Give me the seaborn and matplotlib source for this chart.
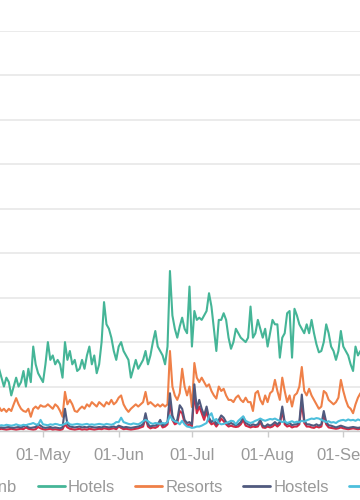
import matplotlib
matplotlib.use("Agg")
import numpy as np
import pandas as pd
import seaborn as sns
import matplotlib.pyplot as plt
import matplotlib.dates as mdates

# ---- data (daily values, starting 13-Apr) ----
start_date = "2019-04-13"
categories = ["Airbnb", "Hotels", "Resorts", "Hostels", "Guesthouses"]
colors = ["#d42a45", "#45b597", "#ef8048", "#505a7e", "#4dbfdc"]

airbnb = [0.4,0.5,0.4,0.3,0.4,0.5,0.4,0.3,0.4,0.5,0.4,0.8,0.5,0.4,0.3,0.4,0.9,0.6,
          0.4,0.3,0.4,0.5,0.3,0.4,0.3,0.2,0.4,1.5,0.8,0.5,0.4,0.3,0.4,0.5,0.3,0.4,0.3,0.5,0.4,0.3,
          0.4,0.5,0.4,0.6,0.5,0.4,0.5,0.6,0.4,1.0,0.7,0.4,0.5,0.4,0.3,0.4,0.5,0.6,0.8,1.0,3.0,1.0,0.6,0.8,0.7,1.0,1.8,0.8,1.0,1.5,
          6.5,2.5,1.5,1.8,4.5,4.0,1.8,1.2,1.5,1.0,8.5,4.0,5.5,4.0,2.5,4.5,2.2,1.5,1.8,1.0,1.8,2.8,2.2,1.5,1.0,1.2,1.0,0.9,1.0,1.5,2.5,1.2,1.0,0.8,1.0,0.9,1.0,2.0,0.8,0.7,1.0,0.8,
          1.0,1.5,1.0,1.5,4.5,1.5,1.0,1.2,0.8,1.0,1.0,1.5,6.5,1.8,1.0,1.0,0.8,0.7,1.0,0.8,1.0,3.5,1.5,0.8,0.7,0.6,0.5,0.6,0.8,0.6,0.5,0.4,0.5,0.6,0.5,0.4,0.5]

hotels = [14,12,10,12,11,8,10,12,10,11,13.5,10,14,11,19,15,13,12,
          11,15,20,16,17,15,16,15,12,20,16,18,15,16,13.5,14,16,14,17,19,15,17,
          13,15,20,29,24,23,21,18,16,19,20,18,17,16,12,14,16,14,15,16,18,15,17,20,22.5,19,18,17,15,19,
          36,26,23,21,23.5,25.5,23,22,32.5,19,27,25,25.5,25,26,27,31,28,23,18,25,25,26.5,25,21,18.5,20,23,22,21,20.5,20,21,28,21,22,25,23,21,23,19,22,
          25,24,24,16.5,21,22,26.5,27,16.5,27.5,26,24,23,22,24,22,25,22,19.5,17.7,18,20,24,22,19,18,16,18,22.5,19,18,17,15,13.5,19,17,18]

resorts = [5.4,4.5,5,4.3,5,4.5,6,7.4,6,5,4.5,4.3,5,3.2,5,5.5,5,5.8,
           5.5,5.5,6,5.5,5,6,5.5,4.5,3.2,8.8,6,7,6,4.5,4.3,5,5.5,5,6,5.5,6.5,6,
           5.5,6.5,6,5.5,6.5,6,7,6,6.5,7.5,8,6,5,4.3,5,5.5,6,5.5,6,6.5,8.8,6,6.5,6,5.5,6,5.5,6,5.5,6,
           18,10,8,7,8.5,14,10,8,10,5.4,15.3,12,11,12,11,10,10.5,9,8,7.3,10,9,9.5,8,7,7,6.5,7.5,8,7,6.5,7.5,6.5,6.5,4.5,8.5,9,7,6,8,6.5,8.5,
           9,11.5,9,7,12,9,6.5,8,5.5,8,8.5,10,14.4,9,8,9.5,8,7,6,5,5.5,9,8.5,7,6.5,6,6.5,7.5,11.5,9,7,5.5,5,4,6,7.5,8.5]

hostels = [0.8,0.8,0.7,0.8,0.9,0.8,0.7,0.8,0.9,0.8,1.0,1.3,0.8,0.7,0.8,0.9,1.5,1.2,
           0.8,0.7,0.8,0.9,0.7,0.8,0.7,0.6,0.8,5.0,1.5,1.0,0.9,0.8,0.9,1.0,0.8,0.9,0.8,1.0,0.9,0.8,
           0.8,0.9,0.8,1.0,0.9,0.8,0.9,1.0,0.8,1.2,1.0,0.8,0.9,0.8,0.7,0.8,0.9,1.0,1.2,1.5,4.0,1.5,1.0,1.2,1.2,1.5,2.5,1.2,1.5,2.0,
           8.5,3.5,2.0,2.5,5.8,5.0,2.5,1.8,2.0,1.5,10.5,5.0,7.0,5.0,3.5,5.5,3.0,2.0,2.5,1.5,2.5,3.5,3.0,2.0,1.5,1.8,1.5,1.3,1.5,2.0,3.2,1.8,1.5,1.2,1.5,1.3,1.5,2.5,1.2,1.0,1.5,1.2,
           1.5,2.0,1.5,2.0,5.5,2.0,1.5,1.8,1.3,1.5,1.5,2.0,8.2,2.5,1.5,1.5,1.3,1.2,1.5,1.2,1.5,4.5,2.0,1.3,1.2,1.0,0.8,1.0,1.2,1.0,0.8,0.7,0.8,0.9,0.8,0.7,0.8]

guesthouses = [1.2,1.3,1.2,1.4,1.3,1.2,1.3,1.5,1.3,1.2,1.4,1.3,1.5,1.6,1.8,1.5,1.4,2.5,
               1.5,1.4,1.3,1.5,1.4,1.6,1.5,1.3,1.4,1.6,2.0,1.5,1.4,1.5,1.6,1.5,1.4,1.5,1.6,1.4,1.5,1.4,
               1.5,1.6,1.5,1.4,1.6,1.5,1.4,1.6,2.0,2.0,3.0,2.0,1.8,1.6,1.5,1.7,1.6,1.5,1.8,2.2,2.5,2.2,1.8,1.6,1.8,1.7,1.6,1.8,1.7,2.0,
               3.5,2.5,2.2,2.0,1.5,2.3,1.5,1.0,0.9,0.7,0.8,1.0,1.0,1.2,1.5,1.8,3.3,4.0,2.3,2.7,1.8,1.5,1.6,1.8,2.0,2.3,2.2,1.5,2.3,2.8,3.3,2.3,2.0,1.8,2.0,2.3,2.5,2.8,2.5,2.3,2.5,2.7,
               2.6,2.8,2.5,2.3,2.0,2.2,1.8,2.0,2.2,1.9,2.1,2.0,2.3,2.1,2.4,2.6,2.8,2.7,2.9,2.8,2.5,2.3,2.0,2.2,1.9,2.0,1.8,2.2,2.4,2.5,2.3,2.6,2.4,2.5,2.3,2.6,2.4]

series = [airbnb, hotels, resorts, hostels, guesthouses]
n = min(len(s) for s in series)
dates = pd.date_range(start_date, periods=n, freq="D")
frames = []
for name, vals in zip(categories, series):
    frames.append(pd.DataFrame({"date": dates, "value": vals[:n], "type": name}))
df = pd.concat(frames, ignore_index=True)

# ---- plot ----
sns.set_theme(style="white")
plt.rcParams["font.family"] = ["Liberation Sans", "DejaVu Sans"]

fig = plt.figure(figsize=(3.6, 5.0), dpi=100)
ax = fig.add_axes([0.0, 69 / 500, 1.0, 400 / 500])

sns.lineplot(data=df, x="date", y="value", hue="type", hue_order=categories,
             palette=dict(zip(categories, colors)), linewidth=1.5,
             estimator=None, ax=ax, legend=True)

may1 = mdates.date2num(pd.Timestamp("2019-05-01"))
ax.set_xlim(may1 - 17.61, may1 + 129.84)
ax.set_ylim(0, 90)
ax.set_yticks(np.arange(0, 100, 10))
ax.yaxis.grid(True, color="#ebebeb", linewidth=1.4)
ax.xaxis.grid(False)
ax.set_axisbelow(True)
ax.xaxis.set_major_locator(mdates.MonthLocator())
ax.xaxis.set_major_formatter(mdates.DateFormatter("%d-%b"))
ax.tick_params(axis="x", bottom=True, length=4, width=1, color="#cccccc",
               labelcolor="#999999", labelsize=12, pad=8)
ax.tick_params(axis="y", left=False, labelleft=False)
for s in ["top", "left", "right"]:
    ax.spines[s].set_visible(False)
ax.spines["bottom"].set_color("#cccccc")
ax.spines["bottom"].set_linewidth(1)
ax.set_xlabel("")
ax.set_ylabel("")

sns.move_legend(ax, "center left", bbox_to_anchor=(-61 / 360, 13 / 500),
                bbox_transform=fig.transFigure, ncol=5, frameon=False, title=None,
                fontsize=12, handlelength=1.62, handletextpad=0.2,
                columnspacing=1.2, borderpad=0, borderaxespad=0)
leg = ax.get_legend()
for t in leg.get_texts():
    t.set_color("#999999")
for l in leg.get_lines():
    l.set_linewidth(2)

fig.savefig("out.png", dpi=100)
